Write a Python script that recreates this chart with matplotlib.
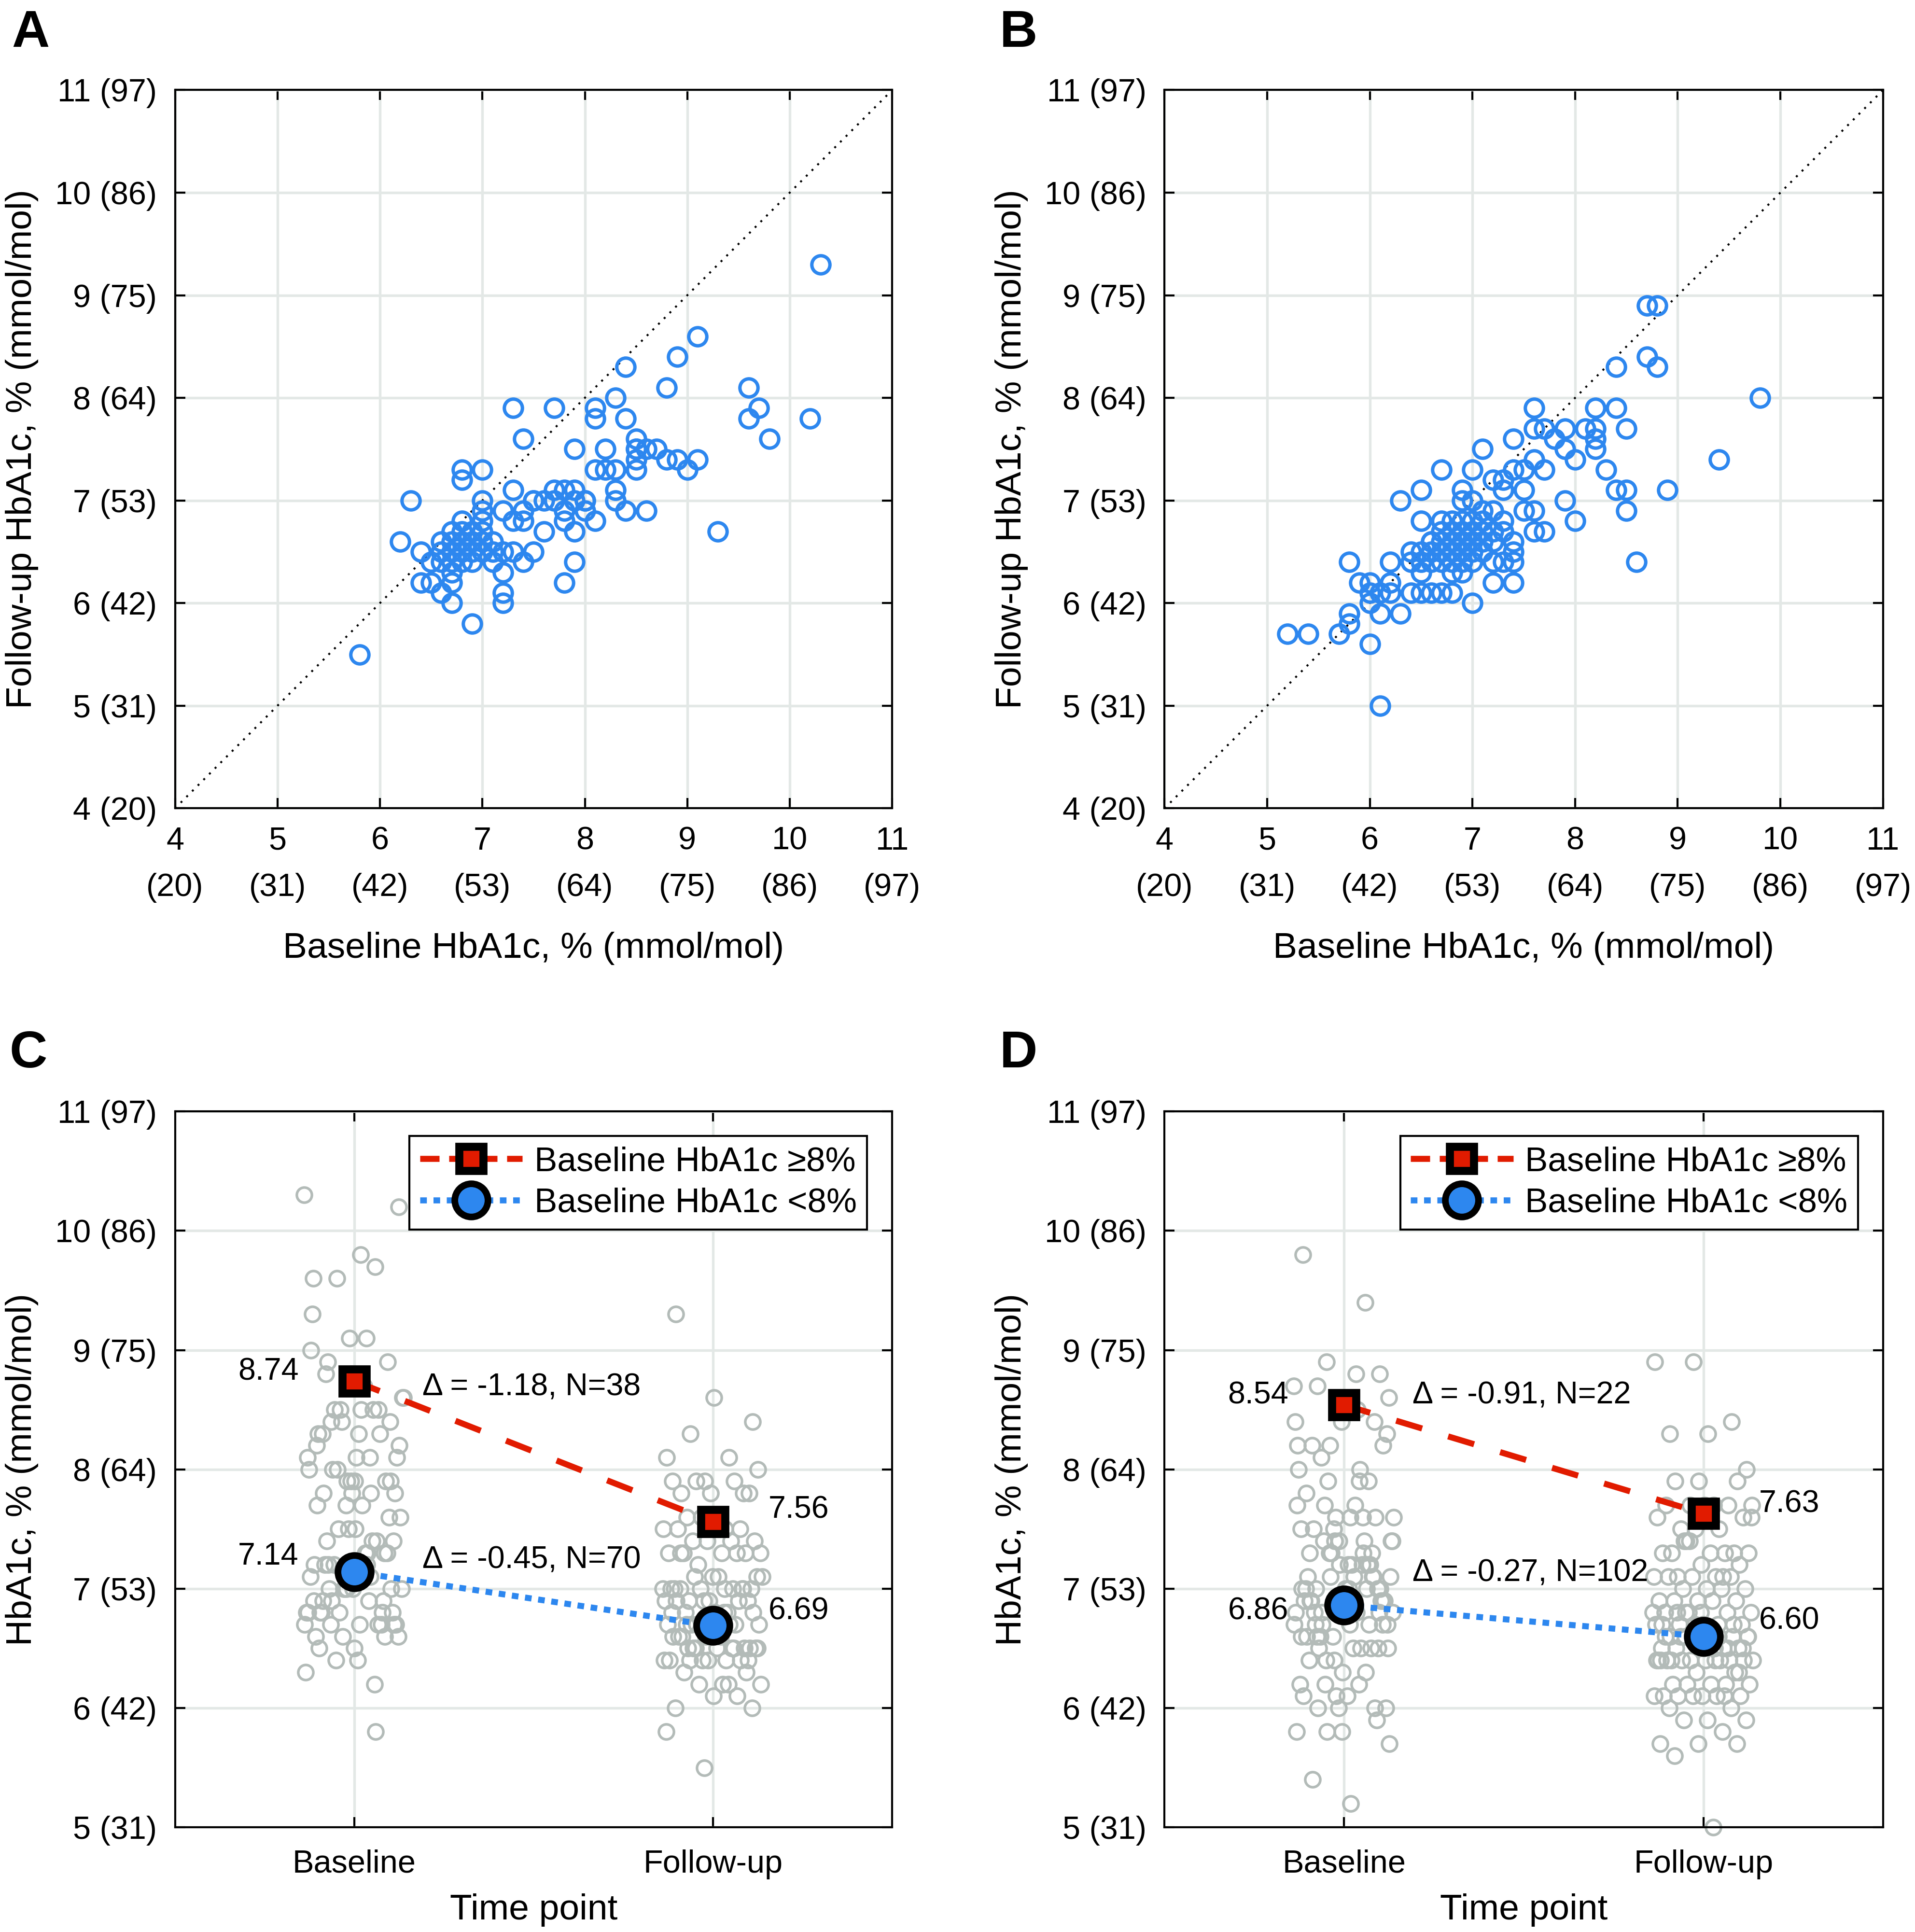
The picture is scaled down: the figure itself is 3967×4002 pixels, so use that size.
import matplotlib
matplotlib.use('Agg')
import matplotlib.pyplot as plt
from matplotlib.lines import Line2D
import numpy as np

plt.rcParams['font.family'] = ['Liberation Sans', 'DejaVu Sans']

# ---------------- data ----------------
pct_ticks = [4, 5, 6, 7, 8, 9, 10, 11]
mmol_ticks = [20, 31, 42, 53, 64, 75, 86, 97]

a_baseline = [10.3, 9.1, 8.9, 8.4, 8.8, 9.6, 9.7, 9.6, 10.2, 9.8,
              8.3, 7.3, 7.7, 8.1, 8.1, 8.4, 7.4, 7.9, 8.2, 8.5,
              8.5, 8.6, 8.7, 8.8, 8.9, 9.1, 9.0, 8.5, 8.5, 8.1,
              8.3, 6.8, 6.8, 7.0, 6.3, 7.3, 7.0, 7.0, 7.0, 7.2,
              7.4, 7.5, 7.6, 7.7, 7.8, 7.9, 7.9, 8.0, 7.8, 8.0,
              7.8, 8.1, 8.3, 8.3, 8.4, 8.6, 7.3, 7.4, 7.6, 7.9,
              9.3, 6.2, 6.4, 6.6, 6.7, 6.8, 6.9, 7.0, 6.8, 6.9,
              6.7, 6.8, 6.5, 6.6, 6.7, 6.8, 7.0, 7.1, 7.2, 7.3,
              7.5, 7.1, 7.4, 7.2, 6.7, 6.4, 6.5, 6.7, 6.6, 6.7,
              7.2, 7.2, 7.9, 7.8, 6.9, 5.8, 8.0, 8.2, 8.5, 6.9,
              6.6, 7.0, 6.8, 7.1, 6.9, 6.7, 7.5, 7.7]
a_followup = [9.3, 8.6, 8.4, 8.3, 8.1, 8.1, 7.9, 7.8, 7.8, 7.6,
              8.0, 7.9, 7.9, 7.9, 7.8, 7.8, 7.6, 7.5, 7.5, 7.6,
              7.5, 7.5, 7.5, 7.4, 7.4, 7.4, 7.3, 7.4, 7.3, 7.3,
              7.3, 7.3, 7.2, 7.3, 7.0, 7.1, 7.0, 6.9, 6.8, 6.9,
              6.9, 7.0, 7.0, 7.1, 7.1, 7.1, 7.0, 7.0, 6.9, 6.9,
              6.8, 6.8, 7.1, 7.0, 6.9, 6.9, 6.8, 6.8, 6.7, 6.7,
              6.7, 6.6, 6.5, 6.6, 6.6, 6.7, 6.7, 6.7, 6.6, 6.6,
              6.5, 6.5, 6.4, 6.4, 6.4, 6.4, 6.6, 6.5, 6.5, 6.5,
              6.5, 6.4, 6.4, 6.3, 6.3, 6.2, 6.2, 6.2, 6.1, 6.0,
              6.1, 6.0, 6.4, 6.2, 5.8, 5.5, 7.0, 7.3, 7.5, 6.5,
              6.5, 6.5, 6.8, 6.6, 6.4, 6.7, 7.0, 7.0]

b_baseline = [8.7, 8.8, 8.7, 8.8, 8.4, 9.8, 9.4, 8.9, 8.6, 7.6,
              8.2, 8.4, 7.6, 7.7, 7.9, 8.1, 8.2, 8.5, 7.8, 7.9,
              8.2, 7.4, 7.1, 6.7, 7.0, 7.4, 7.5, 7.6, 7.7, 8.3,
              7.2, 7.3, 7.3, 7.5, 8.4, 8.5, 6.5, 6.9, 6.3, 6.9,
              7.0, 7.9, 7.1, 7.2, 7.5, 7.6, 8.5, 8.0, 6.5, 6.7,
              6.9, 6.8, 7.1, 7.2, 7.3, 7.6, 7.7, 6.6, 6.8, 6.9,
              7.0, 7.4, 6.4, 6.5, 6.7, 6.9, 7.1, 7.4, 5.8, 6.2,
              6.6, 6.7, 6.9, 7.0, 7.2, 7.3, 7.4, 6.5, 6.8, 5.9,
              6.0, 6.2, 7.2, 7.4, 6.0, 6.1, 6.4, 6.5, 6.6, 6.7,
              6.8, 6.0, 7.0, 5.8, 6.1, 6.3, 5.8, 5.7, 5.2, 5.4,
              6.0, 6.1, 8.2, 8.0, 6.8, 6.9, 7.0, 6.6, 6.7, 7.1,
              6.8, 6.9, 7.0, 6.5, 7.2, 6.6, 7.3, 6.2, 6.7, 7.0,
              6.9, 7.1, 6.4, 6.8]
b_followup = [8.9, 8.9, 8.4, 8.3, 8.3, 8.0, 7.4, 7.1, 6.4, 7.9,
              7.9, 7.9, 7.7, 7.7, 7.7, 7.7, 7.7, 7.7, 7.6, 7.5,
              7.5, 7.6, 7.5, 7.3, 7.3, 7.3, 7.3, 7.4, 7.3, 7.3,
              7.2, 7.2, 7.1, 7.1, 7.1, 7.1, 7.1, 7.1, 7.0, 7.0,
              7.0, 7.0, 6.9, 6.9, 6.9, 6.9, 6.9, 6.8, 6.8, 6.8,
              6.8, 6.7, 6.7, 6.7, 6.7, 6.7, 6.7, 6.6, 6.6, 6.6,
              6.6, 6.6, 6.5, 6.5, 6.5, 6.5, 6.5, 6.5, 6.4, 6.4,
              6.4, 6.4, 6.4, 6.4, 6.4, 6.4, 6.4, 6.3, 6.3, 6.2,
              6.2, 6.2, 6.2, 6.2, 6.1, 6.1, 6.1, 6.1, 6.1, 6.1,
              6.1, 6.0, 6.0, 5.9, 5.9, 5.9, 5.8, 5.7, 5.7, 5.7,
              5.6, 5.0, 7.6, 7.4, 6.5, 6.6, 6.5, 6.5, 6.6, 6.6,
              6.4, 6.7, 6.7, 6.4, 6.6, 6.6, 6.8, 6.1, 6.7, 6.8,
              6.3, 6.8, 6.4, 6.8]

time_labels = ['Baseline', 'Follow-up']
c_high_means = [8.74, 7.56]
c_low_means = [7.14, 6.69]
c_deltas = ['Δ = -1.18, N=38', 'Δ = -0.45, N=70']
d_high_means = [8.54, 7.63]
d_low_means = [6.86, 6.60]
d_deltas = ['Δ = -0.91, N=22', 'Δ = -0.27, N=102']
legend_labels = ['Baseline HbA1c ≥8%', 'Baseline HbA1c <8%']

# ---------------- style ----------------
BLUE = '#2D87EF'
RED = '#E11B00'
GRAY = '#B3BBB8'
GRID = '#E3E8E6'
TICK_FS = 16
LABEL_FS = 18
ANN_FS = 15.5

fig = plt.figure(figsize=(3967 / 300, 4002 / 300), dpi=300)

pos = {
    'A': [0.0914, 0.5816, 0.3745, 0.3718],
    'B': [0.6081, 0.5816, 0.3752, 0.3718],
    'C': [0.0914, 0.0542, 0.3745, 0.3705],
    'D': [0.6081, 0.0542, 0.3752, 0.3705],
}
letter_xy = {'A': (0.006, 0.9758), 'B': (0.522, 0.9758),
             'C': (0.005, 0.4475), 'D': (0.522, 0.4475)}


def style(ax):
    for s in ax.spines.values():
        s.set_linewidth(1.0)
        s.set_color('black')
    ax.tick_params(direction='in', length=5, width=1.0, top=True, right=True,
                   labelsize=TICK_FS, pad=9)
    ax.grid(True, color=GRID, lw=1.3)
    ax.set_axisbelow(True)


ylab = [f'{p} ({m})' for p, m in zip(pct_ticks, mmol_ticks)]
xlab = [f'{p}\n({m})' for p, m in zip(pct_ticks, mmol_ticks)]


def scatter_panel(ax, xb, yf):
    style(ax)
    ax.plot([4, 11], [4, 11], ls=(0, (1, 3)), color='black', lw=1.0, zorder=1)
    ax.plot(xb, yf, 'o', mfc='none', mec=BLUE, ms=9, mew=1.7, ls='none', zorder=2)
    ax.set_xlim(4, 11)
    ax.set_ylim(4, 11)
    ax.set_xticks(pct_ticks)
    ax.set_xticklabels(xlab)
    for t in ax.get_xticklabels():
        t.set_linespacing(1.7)
    ax.set_yticks(pct_ticks)
    ax.set_yticklabels(ylab)
    ax.set_xlabel('Baseline HbA1c, % (mmol/mol)', fontsize=LABEL_FS)
    ax.set_ylabel('Follow-up HbA1c, % (mmol/mol)', fontsize=LABEL_FS)
    ax.xaxis.set_label_coords(0.5, -0.172)
    ax.yaxis.set_label_coords(-0.19, 0.5)


def jitter(n, w):
    g = 0.6180339887
    return np.array([((i * g) % 1.0 - 0.5) * 2 * w for i in range(n)])


def strip_panel(ax, base, follow, hi, lo, deltas, delta_y, lab_dy):
    style(ax)
    base = np.asarray(base)
    follow = np.asarray(follow)
    ax.plot(1 + jitter(len(base), 0.14), base, 'o', mfc='none', mec=GRAY, ms=7.5,
            mew=1.3, ls='none', zorder=2, clip_on=False)
    ax.plot(2 + jitter(len(follow), 0.14)[::-1], follow, 'o', mfc='none', mec=GRAY,
            ms=7.5, mew=1.3, ls='none', zorder=2, clip_on=False)
    x = [1, 2]
    ax.plot(x, hi, color=RED, lw=3, dashes=(4.5, 4.5), zorder=3)
    ax.plot(x, lo, color=BLUE, lw=3, dashes=(1.1, 1.1), zorder=3)
    ax.plot(x, hi, 's', mfc=RED, mec='black', ms=12, mew=4, zorder=4)
    ax.plot(x, lo, 'o', mfc=BLUE, mec='black', ms=16.5, mew=3.3, zorder=4)
    ax.set_xlim(0.5, 2.5)
    ax.set_ylim(5, 11)
    ax.set_xticks(x)
    ax.set_xticklabels(time_labels)
    ax.set_yticks(pct_ticks[1:])
    ax.set_yticklabels(ylab[1:])
    ax.tick_params(axis='x', pad=11)
    ax.set_xlabel('Time point', fontsize=LABEL_FS)
    ax.set_ylabel('HbA1c, % (mmol/mol)', fontsize=LABEL_FS)
    ax.xaxis.set_label_coords(0.5, -0.092)
    ax.yaxis.set_label_coords(-0.19, 0.5)
    # value labels
    for (v, dy) in zip([hi[0], lo[0]], lab_dy[0]):
        ax.text(0.845, v + dy, f'{v:.2f}', ha='right', va='center', fontsize=ANN_FS)
    for (v, dy) in zip([hi[1], lo[1]], lab_dy[1]):
        ax.text(2.155, v + dy, f'{v:.2f}', ha='left', va='center', fontsize=ANN_FS)
    for d, yy in zip(deltas, delta_y):
        ax.text(1.19, yy, d, ha='left', va='center', fontsize=ANN_FS)
    handles = [
        Line2D([], [], color=RED, lw=3, dashes=(3.2, 1.6), marker='s', mfc=RED,
               mec='black', ms=12, mew=4),
        Line2D([], [], color=BLUE, lw=3, dashes=(1.1, 1.1), marker='o', mfc=BLUE,
               mec='black', ms=16.5, mew=3.3),
    ]
    leg = ax.legend(handles, legend_labels, loc='upper right',
                    bbox_to_anchor=(0.965, 0.966), borderaxespad=0, fontsize=17,
                    fancybox=False, framealpha=1, edgecolor='black',
                    handlelength=3.0, handletextpad=0.35, borderpad=0.3,
                    labelspacing=0.28)
    leg.get_frame().set_linewidth(1.0)


axA = fig.add_axes(pos['A'])
scatter_panel(axA, a_baseline, a_followup)
axB = fig.add_axes(pos['B'])
scatter_panel(axB, b_baseline, b_followup)
axC = fig.add_axes(pos['C'])
strip_panel(axC, a_baseline, a_followup, c_high_means, c_low_means, c_deltas,
            [8.69, 7.24], [[0.08, 0.13], [0.1, 0.12]])
axD = fig.add_axes(pos['D'])
strip_panel(axD, b_baseline, b_followup, d_high_means, d_low_means, d_deltas,
            [8.62, 7.13], [[0.08, -0.05], [0.08, 0.13]])

for k, (lx, ly) in letter_xy.items():
    fig.text(lx, ly, k, fontsize=26, fontweight='bold', ha='left', va='baseline')

fig.savefig('out.png', dpi=300)
